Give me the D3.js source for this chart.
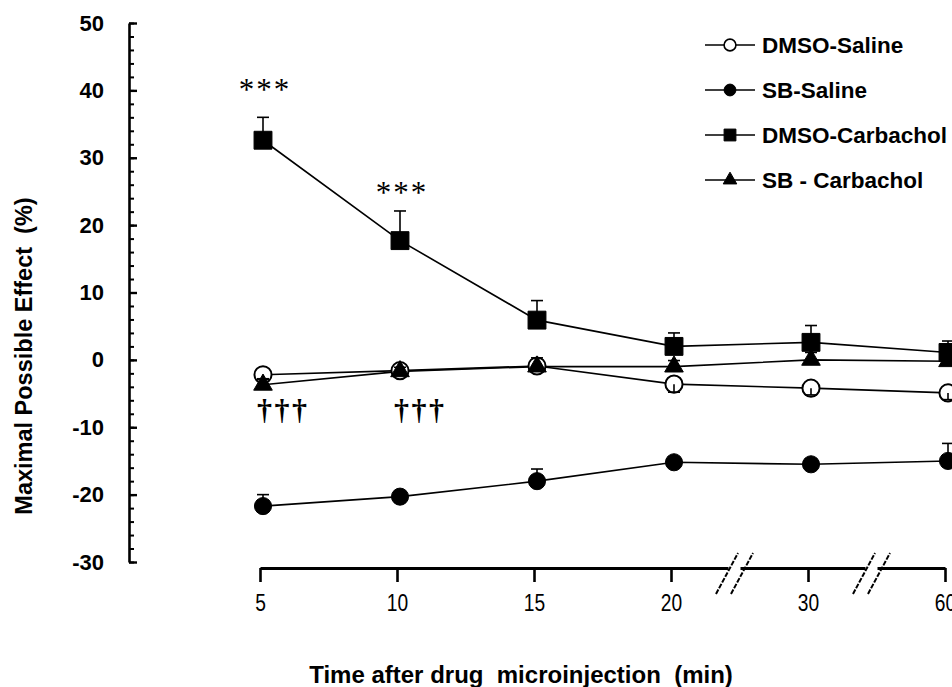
<!doctype html>
<html>
<head>
<meta charset="utf-8">
<style>
  body { margin: 0; background: white; }
  svg { font-family: "Liberation Sans", Arial, sans-serif; }
  .y-axis text { font-size: 22px; font-weight: bold; }
  .x-axis text { font-size: 24px; }
  .series-line { fill: none; stroke: black; stroke-width: 1.6px; }
  .errbar { stroke: black; stroke-width: 1.6px; }
  .axis-title { font-weight: bold; }
  .legend text { font-size: 22.5px; font-weight: bold; }
  .sig { font-family: "Liberation Serif", "Times New Roman", serif; }
</style>
<script src="https://d3js.org/d3.v7.min.js"></script>
</head>
<body>
<svg width="952" height="687"></svg>
<script>
// time points (min)
var times = ["5", "10", "15", "20", "30", "60"];

var seriesNames = ["DMSO-Saline", "SB-Saline", "DMSO-Carbachol", "SB - Carbachol"];

// means
var dmsoSaline     = [-2.2, -1.6, -0.9, -3.6, -4.2, -4.9];
var sbSaline       = [-21.7, -20.3, -18.0, -15.2, -15.5, -15.0];
var dmsoCarbachol  = [32.6, 17.7, 5.9, 2.0, 2.6, 1.1];
var sbCarbachol    = [-3.7, -1.7, -1.0, -1.0, 0.0, -0.2];

// SEM
var dmsoSalineSem    = [0.6, 0.5, 0.6, 1.2, 1.0, 1.0];
var sbSalineSem      = [1.7, 0.6, 1.8, 0.6, 0.8, 2.6];
var dmsoCarbacholSem = [3.4, 4.4, 2.9, 2.0, 2.5, 1.7];
var sbCarbacholSem   = [0.8, 0.6, 1.3, 0.9, 1.1, 0.6];

var yTicks = [-30, -20, -10, 0, 10, 20, 30, 40, 50];
var yMinorTicks = d3.range(-30, 51, 2);

// significance marks: time point and level (in % units) of the marks
var starTimes = ["5", "10"];
var starLevels = [40.4, 25.1];
var daggerTimes = ["5", "10"];
var daggerLevel = -8.9;

var series = [
  { name: seriesNames[0], values: dmsoSaline, sem: dmsoSalineSem, dir: -1, shape: d3.symbolCircle, fill: "white" },
  { name: seriesNames[1], values: sbSaline, sem: sbSalineSem, dir: 1, shape: d3.symbolCircle, fill: "black" },
  { name: seriesNames[2], values: dmsoCarbachol, sem: dmsoCarbacholSem, dir: 1, shape: d3.symbolSquare, fill: "black" },
  { name: seriesNames[3], values: sbCarbachol, sem: sbCarbacholSem, dir: 1, shape: d3.symbolTriangle, fill: "black" }
];

var bigSize = { circle: 230, square: 320, triangle: 150 };
var smallSize = { circle: 110, square: 140, triangle: 80 };
function sizeOf(shape, table) {
  if (shape === d3.symbolSquare) return table.square;
  if (shape === d3.symbolTriangle) return table.triangle;
  return table.circle;
}

var svg = d3.select("svg");

var x = d3.scalePoint().domain(times).range([263, 948]);
var y = d3.scaleLinear().domain([-30, 50]).range([562, 23]);

// y axis: minor then major ticks pointing inward
svg.append("g")
  .attr("transform", "translate(129,0)")
  .call(d3.axisLeft(y).tickValues(yMinorTicks).tickSizeInner(-5).tickSizeOuter(0).tickFormat(""))
  .call(function (g) { g.select(".domain").remove(); })
  .selectAll("line").attr("stroke-width", 2);

var yAxis = svg.append("g")
  .attr("class", "y-axis")
  .attr("transform", "translate(129,0)")
  .call(d3.axisLeft(y).tickValues(yTicks).tickSizeInner(-8).tickSizeOuter(0).tickPadding(25)
    .tickFormat(function (d) { return String(d); }));
yAxis.select(".domain").attr("stroke-width", 2.6);
yAxis.selectAll("line").attr("stroke-width", 2.4);
yAxis.selectAll("text").attr("fill", "black");

// x axis
var xAxis = svg.append("g")
  .attr("class", "x-axis")
  .attr("transform", "translate(-3,568)")
  .call(d3.axisBottom(x).tickSizeInner(14).tickSizeOuter(0).tickPadding(12));
xAxis.select(".domain").attr("stroke-width", 3);
xAxis.selectAll("line").attr("stroke-width", 2.6);
xAxis.selectAll("text").attr("fill", "black").attr("transform", "scale(0.8,1)");

// axis breaks between 20-30 and 30-60
var breaks = [["20", "30"], ["30", "60"]];
breaks.forEach(function (b) {
  var cx = (x(b[0]) + x(b[1])) / 2 - 5;
  var gb = xAxis.append("g");
  gb.append("rect")
    .attr("x", cx - 6).attr("y", -4).attr("width", 12).attr("height", 8)
    .attr("fill", "white");
  [-7.5, 7.5].forEach(function (off) {
    gb.append("line")
      .attr("x1", cx + off - 11).attr("y1", 26)
      .attr("x2", cx + off + 11).attr("y2", -15)
      .attr("stroke", "black").attr("stroke-width", 2)
      .attr("stroke-dasharray", "5,1.5");
  });
});

// axis titles
svg.append("text")
  .attr("class", "axis-title")
  .attr("transform", "translate(32,356) rotate(-90)")
  .attr("text-anchor", "middle")
  .attr("font-size", 23.5)
  .attr("xml:space", "preserve")
  .text("Maximal Possible Effect  (%)");

svg.append("text")
  .attr("class", "axis-title")
  .attr("x", 521).attr("y", 683)
  .attr("text-anchor", "middle")
  .attr("font-size", 24)
  .attr("xml:space", "preserve")
  .text("Time after drug  microinjection  (min)");

// lines
var line = d3.line()
  .x(function (d, i) { return x(times[i]); })
  .y(function (d) { return y(d); });

series.forEach(function (s) {
  svg.append("path").datum(s.values).attr("class", "series-line").attr("d", line);
});

// markers
series.forEach(function (s) {
  svg.append("g").selectAll("path")
    .data(s.values)
    .join("path")
    .attr("transform", function (d, i) { return "translate(" + x(times[i]) + "," + y(d) + ")"; })
    .attr("d", d3.symbol().type(s.shape).size(sizeOf(s.shape, bigSize)))
    .attr("fill", s.fill)
    .attr("stroke", "black")
    .attr("stroke-width", s.fill === "white" ? 2 : 1);
});

// error bars
series.forEach(function (s) {
  var g = svg.append("g");
  s.values.forEach(function (v, i) {
    var cx = x(times[i]);
    var end = y(v + s.dir * s.sem[i]);
    g.append("line").attr("class", "errbar")
      .attr("x1", cx).attr("x2", cx).attr("y1", y(v)).attr("y2", end);
    g.append("line").attr("class", "errbar")
      .attr("x1", cx - 6).attr("x2", cx + 6).attr("y1", end).attr("y2", end);
  });
});

// significance marks
starTimes.forEach(function (t, i) {
  svg.append("text")
    .attr("class", "sig")
    .attr("x", x(t) + 2).attr("y", y(starLevels[i]) + 12)
    .attr("text-anchor", "middle")
    .attr("font-size", 31)
    .attr("letter-spacing", 2)
    .text("***");
});
daggerTimes.forEach(function (t) {
  svg.append("text")
    .attr("class", "sig")
    .attr("x", x(t) - 6).attr("y", y(daggerLevel))
    .attr("font-size", 30)
    .attr("font-weight", "bold")
    .attr("letter-spacing", 2.5)
    .text("\u2020\u2020\u2020");
});

// legend
var legend = svg.append("g").attr("class", "legend");
series.forEach(function (s, i) {
  var ly = 45 + i * 45;
  legend.append("line")
    .attr("x1", 705).attr("x2", 755).attr("y1", ly).attr("y2", ly)
    .attr("stroke", "black").attr("stroke-width", 1.6);
  legend.append("path")
    .attr("transform", "translate(730," + ly + ")")
    .attr("d", d3.symbol().type(s.shape).size(sizeOf(s.shape, smallSize)))
    .attr("fill", s.fill)
    .attr("stroke", "black")
    .attr("stroke-width", s.fill === "white" ? 1.6 : 1);
  legend.append("text")
    .attr("x", 762).attr("y", ly)
    .attr("dy", "0.36em")
    .text(s.name);
});
</script>
</body>
</html>
